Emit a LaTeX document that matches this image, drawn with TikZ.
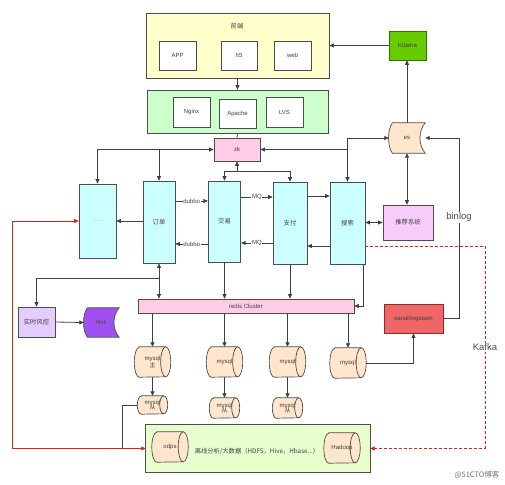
\documentclass[tikz,border=0pt]{standalone}
\usepackage{fontspec}
\setmainfont{Liberation Sans}
\newfontfamily\cjk{Noto Sans CJK SC}
\usetikzlibrary{shapes.geometric,arrows.meta,calc,backgrounds}
\definecolor{cYel}{HTML}{FFFFCC}
\definecolor{cGrn}{HTML}{CCFFCC}
\definecolor{cPink}{HTML}{FFCCE6}
\definecolor{cCyan}{HTML}{CCFFFF}
\definecolor{cRec}{HTML}{F8CCFA}
\definecolor{cPeach}{HTML}{FFE6CC}
\definecolor{cKib}{HTML}{66CC00}
\definecolor{cKibB}{HTML}{2D7600}
\definecolor{cCanal}{HTML}{F06666}
\definecolor{cCanalB}{HTML}{8B2B2B}
\definecolor{cRisk}{HTML}{E5CCFF}
\definecolor{cFlink}{HTML}{A050F0}
\definecolor{cBd}{HTML}{E6FFCC}
\definecolor{cLine}{HTML}{404040}
\definecolor{cRed}{HTML}{E02020}
% horizontal cylinder drawn behind an invisible node: #1 node, #2 x radius of end, #3 half height
\newcommand\cylsh[3]{%
  \path[sdshape, fill=cPeach] ($(#1.north west)+(#2,0)$) -- ($(#1.north east)+(-#2,0)$)
    arc[start angle=-90, end angle=90, x radius=#2, y radius=#3]
    -- ($(#1.south west)+(#2,0)$)
    arc[start angle=90, end angle=270, x radius=#2, y radius=#3] -- cycle;
  \draw[sdshape] ($(#1.north east)+(-#2,0)$)
    arc[start angle=-90, end angle=-270, x radius=#2, y radius=#3];}
\begin{document}
\begin{tikzpicture}[x=1pt,y=-1pt,
  every node/.style={font=\fontsize{6}{7}\selectfont, text=black!75, inner sep=0pt, align=center},
  sz/.style 2 args={minimum width=#1pt, minimum height=#2pt},
  bx/.style={rectangle, draw=black!70, line width=0.7pt},
  cj/.style={font=\cjk\fontsize{6.3}{7.5}\selectfont},
  cyl/.style={rectangle, draw=none},
  sdshape/.style={draw=black!70, line width=0.7pt},
  arr/.style={draw=cLine, line width=0.8pt, -{Triangle[length=4.5pt,width=4pt]}},
  both/.style={draw=cLine, line width=0.8pt, {Triangle[length=4.5pt,width=4pt]}-{Triangle[length=4.5pt,width=4pt]}},
  ln/.style={draw=cLine, line width=0.8pt},
  lab/.style={fill=white, inner sep=0.6pt},
  big/.style={font=\fontsize{9.5}{11}\selectfont, text=black!70, fill=white, inner sep=1pt}]
\begin{scope}[on background layer]
\fill[white] (0,0) rectangle (505,484);
\end{scope}
\useasboundingbox (0,0) rectangle (505,484);

% front end
\node[bx, fill=cYel, sz={183}{65}] (fe) at (237.5,45.5) {};
\node[cj] (feT) at (237,26) {前端};
\node[bx, fill=white, sz={37}{29}] (app) at (177.5,55.5) {APP};
\node[bx, fill=white, sz={36}{29}] (h5) at (239,55.5) {h5};
\node[bx, fill=white, sz={37}{29}] (web) at (292.5,55.5) {web};
\node[bx, fill=cKib, draw=cKibB, sz={37}{29}] (kib) at (407.5,45.5) {Kibana};

% gateway
\node[bx, fill=cGrn, sz={181}{43}] (gw) at (237.5,111.5) {};
\node[bx, fill=white, sz={37}{30}] (nginx) at (191.5,112) {Nginx};
\node[bx, fill=white, sz={37}{29}] (apache) at (237.5,113.5) {Apache};
\node[bx, fill=white, sz={37}{30}] (lvs) at (284.5,112) {LVS};

\node[bx, fill=cPink, sz={46}{23}] (zk) at (237,149.5) {zk};
\node[draw=none, sz={36}{30}] (es) at (407,138) {es};

% services
\node[bx, fill=cCyan, sz={37}{74}, font=\cjk\fontsize{4.5}{5}\selectfont, text=black!55] (dots) at (97.5,221) {……};
\node[bx, fill=cCyan, sz={32}{82}, cj] (order) at (159,222) {订单};
\node[bx, fill=cCyan, sz={32.5}{81}, cj] (trade) at (224.5,221.5) {交易};
\node[bx, fill=cCyan, sz={34}{82}, cj] (pay) at (290,223) {支付};
\node[bx, fill=cCyan, sz={35}{82}, cj] (search) at (347.5,223) {搜索};
\node[bx, fill=cRec, sz={50}{35}, cj] (rec) at (408,222.5) {推荐系统};

\node[bx, fill=cPink, sz={216}{14}] (redis) at (246,306) {redis Cluster};
\node[bx, fill=cRisk, sz={37}{30}, cj] (risk) at (36.5,322) {实时风控};
\node[draw=none, sz={35}{29}, text=black!70] (flink) at (101.5,322.5) {flink};
\node[bx, fill=cCanal, draw=cCanalB, sz={59}{29}] (canal) at (413.5,318.5) {canal/logstash};

% mysql
\node[cyl, sz={36}{30}] (m1) at (152.5,362) {mysql\\{\cjk 主}};
\node[cyl, sz={36}{30}] (m2) at (224.5,362) {mysql};
\node[cyl, sz={36}{30}] (m3) at (287.5,362) {mysql};
\node[cyl, sz={36}{30}] (m4) at (348,363) {mysql};
\node[cyl, sz={30}{18}] (s1) at (152.5,405) {mysql\\[-1.5pt]{\cjk 从}};
\node[cyl, sz={30}{20}] (s2) at (224.5,408) {mysql\\[-1.5pt]{\cjk 从}};
\node[cyl, sz={30}{20}] (s3) at (287.5,408) {mysql\\[-1.5pt]{\cjk 从}};

% big data
\node[draw=none, sz={224}{47}] (bd) at (258,448.5) {};
\node[cyl, sz={36}{30}] (odps) at (170,447) {odps};
\node[cyl, sz={36}{30}] (hadoop) at (342,448) {Hadoop};
\node[cj] (bdT) at (257,451) {离线分析/大数据（HDFS，Hive，Hbase...）};

\node[font=\cjk\fontsize{7.5}{9}\selectfont, text=black!55] (wm) at (477,475) {@51CTO博客};

% shapes behind nodes
\begin{scope}[on background layer]
\path[sdshape, fill=cPeach] ($(es.north west)+(3.5,0)$) -- (es.north east)
  .. controls ($(es.north east)+(-7,8)$) and ($(es.south east)+(-7,-8)$) .. (es.south east)
  -- ($(es.south west)+(3.5,0)$)
  .. controls ($(es.south west)+(-1.5,-7)$) and ($(es.north west)+(-1.5,7)$) .. cycle;
\path[sdshape, fill=cFlink] ($(flink.north west)+(3.5,0)$) -- (flink.north east)
  .. controls ($(flink.north east)+(-7,8)$) and ($(flink.south east)+(-7,-8)$) .. (flink.south east)
  -- ($(flink.south west)+(3.5,0)$)
  .. controls ($(flink.south west)+(-1.5,-7)$) and ($(flink.north west)+(-1.5,7)$) .. cycle;
\cylsh{m1}{5}{15}
\cylsh{m2}{5}{15}
\cylsh{m3}{5}{15}
\cylsh{m4}{5}{15}
\cylsh{s1}{4}{9}
\cylsh{s2}{4}{10}
\cylsh{s3}{4}{10}
\path[bx, fill=cBd] (bd.north west) rectangle (bd.south east);
\cylsh{odps}{5}{15}
\cylsh{hadoop}{5}{15}
\end{scope}

% helper coordinates
\coordinate (zkb) at (237,171);
\coordinate (d1) at (0,201);
\coordinate (d2) at (0,244);
\coordinate (q1) at (0,197);
\coordinate (q2) at (0,243);
\coordinate (p1) at (0,196);
\coordinate (p2) at (0,246);
\coordinate (bl) at (459,138);
\coordinate (kf) at (485,246);
\coordinate (rl) at (12,221);
\coordinate (rj) at (122,448.5);
\coordinate (ob) at (159,278);
\coordinate (sb) at (363,264);

% connectors
\draw[arr] (kib.west) -- (fe.east);
\draw[arr] (fe.south) -- (gw.north);
\draw[ln] (gw.south) -- (zk.north);
\draw[both] (zk.west) -| (dots.north);
\draw[arr] (order.north |- zk.west) -- (order.north);
\draw[both] (es.west) -| (search.north);
\draw[arr] (search.north |- zk.east) -- (zk.east);
\draw[arr] (zkb) -- (zk.south);
\draw[arr] (zkb) -| (trade.north);
\draw[arr] (zkb) -| (pay.north);
\draw[arr] (es.north) -- (es.north |- kib.south);
\draw[both] (es.south) -- (es.south |- rec.north);
\draw[both] (search.east |- rec.west) -- (rec.west);
\draw[arr] (canal.east) -| (bl) node[pos=0.78, big] {binlog} -- (es.east);
\draw[draw=cRed, line width=0.9pt, dash pattern=on 3pt off 2pt, -{Triangle[length=4.5pt,width=4pt]}]
  (search.east |- kf) -- (kf) |- (bd.east) node[pos=0.25, big, text=black!70] {Kafka};
\draw[arr] (m4.east) -| (canal.south);
\draw[arr] (order.west |- dots.east) -- (dots.east);
\draw[arr] (order.east |- d1) -- node[lab] {dubbo} (trade.west |- d1);
\draw[arr] (trade.west |- d2) -- node[lab] {dubbo} (order.east |- d2);
\draw[arr] (trade.east |- q1) -- node[lab] {MQ} (pay.west |- q1);
\draw[arr] (pay.west |- q2) -- node[lab] {MQ} (trade.east |- q2);
\draw[arr] (pay.east |- p1) -- (search.west |- p1);
\draw[arr] (search.west |- p2) -- (pay.east |- p2);
\draw[draw=cRed, line width=0.9pt, {Triangle[length=4.5pt,width=4pt]}-{Triangle[length=4.5pt,width=4pt]}]
  (dots.west) -- (rl) |- (bd.west);
\draw[ln] (s1.west) -| (rj);
\draw[both] (order.south) -- (order.south |- redis.north);
\draw[arr] (ob) -| (risk.north);
\draw[arr] (risk.east) -- (flink.west);
\draw[arr] (trade.south) -- (trade.south |- redis.north);
\draw[arr] (pay.south) -- (pay.south |- redis.north);
\draw[arr] (sb) |- (redis.east);
\draw[arr] (redis.south -| m1.north) -- (m1.north);
\draw[arr] (redis.south -| m2.north) -- (m2.north);
\draw[arr] (redis.south -| m3.north) -- (m3.north);
\draw[arr] (redis.south -| m4.north) -- (m4.north);
\draw[arr] (m1.south) -- (s1.north);
\draw[arr] (m2.south) -- (s2.north);
\draw[arr] (m3.south) -- (s3.north);
\end{tikzpicture}
\end{document}
